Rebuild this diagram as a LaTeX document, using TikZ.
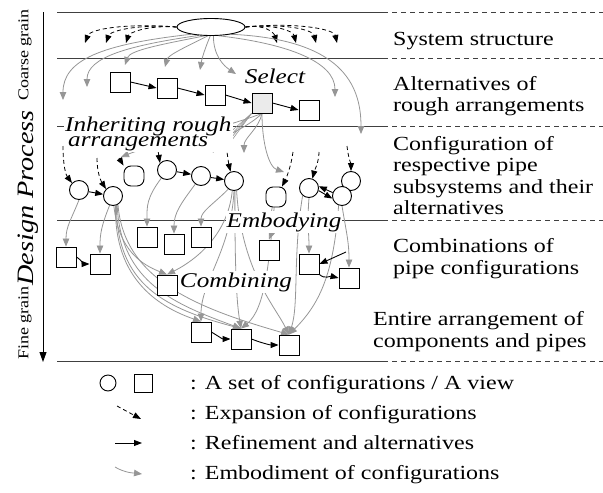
\documentclass[tikz,border=0pt]{standalone}
\usepackage{fontspec}
\setmainfont{Liberation Serif}[FakeStretch=1.2]
\usetikzlibrary{arrows.meta,shapes.geometric}
\definecolor{embgray}{RGB}{150,150,150}
\definecolor{selgray}{RGB}{235,235,235}
\pgfdeclarelayer{back}
\pgfsetlayers{back,main}

\begin{document}
\begin{tikzpicture}[x=1pt,y=-1pt,
  box/.style={draw,line width=0.9pt,fill=white,minimum size=20pt,inner sep=0pt},
  cfg/.style={draw,circle,line width=0.9pt,fill=white,minimum size=19pt,inner sep=0pt},
  rcfg/.style={draw,rounded corners=7pt,line width=0.9pt,fill=white,minimum size=20pt,inner sep=0pt},
  expand/.style={dash pattern=on 4pt off 3pt,line width=0.8pt,-{Triangle[length=8pt,width=6pt]}},
  refine/.style={line width=0.9pt,-{Triangle[length=8pt,width=6pt]}},
  embody/.style={embgray,line width=0.8pt,-{Triangle[length=8pt,width=6.5pt]}},
  inherit/.style={embgray,line width=0.6pt},
  level/.style={black!75,line width=0.8pt},
  tag/.style={font=\fontsize{21}{21}\selectfont\itshape,fill=white,inner sep=1pt},
  lbl/.style={anchor=base west,inner sep=0pt,font=\fontsize{20}{22}\selectfont},
]
\useasboundingbox (0,0) rectangle (603,493);

% design process axis
\coordinate (axtop) at (43,12);
\coordinate (axbot) at (43,362);
\draw[-{Triangle[length=10pt,width=7pt]},line width=0.9pt] (axtop) -- (axbot);
\node[rotate=90,font=\fontsize{15}{15}\selectfont] (coarse) at (25,55) {Coarse grain};
\node[rotate=90,font=\fontsize{23.5}{24}\selectfont\itshape] (dproc) at (28,198) {Design Process};
\node[rotate=90,font=\fontsize{15}{15}\selectfont] (fine) at (25,323) {Fine grain};

% system structure
\node[draw,ellipse,line width=0.9pt,minimum width=68pt,minimum height=17pt,inner sep=0pt,fill=white] (sys) at (211,27) {};

% rough arrangements
\node[box] (r1) at (120,82) {};
\node[box] (r2) at (167,88) {};
\node[box] (r3) at (215,95) {};
\node[box,fill=selgray] (r4) at (262,103) {};
\node[box] (r5) at (309,110) {};

% pipe subsystems
\node[cfg] (c1) at (79,190) {};
\node[cfg] (c2) at (113,196) {};
\node[rcfg] (c3) at (134,176) {};
\node[cfg] (c4) at (167,170) {};
\node[cfg] (c5) at (201,176) {};
\node[cfg] (c6) at (234,181) {};
\node[rcfg] (c7) at (276,197) {};
\node[cfg] (c10) at (351,181) {};
\node[cfg] (c8) at (309,188) {};
\node[cfg] (c9) at (342,196) {};

% combinations
\node[box] (b1) at (66,257) {};
\node[box] (b2) at (100,264) {};
\node[box] (b3) at (147,237) {};
\node[box] (b4) at (174,244) {};
\node[box] (b5) at (201,237) {};
\node[box] (b6) at (167,285) {};
\node[box] (b7) at (269,250) {};
\node[box] (b8) at (309,264) {};
\node[box] (b9) at (349,278) {};

% entire arrangement
\node[box] (f1) at (201,332) {};
\node[box] (f2) at (241,339) {};
\node[box] (f3) at (289,345) {};

% free ends
\coordinate (xl1) at (85,43);
\coordinate (xl2) at (106,43);
\coordinate (xl3) at (126,43);
\coordinate (xr1) at (277,43);
\coordinate (xr2) at (296,43);
\coordinate (xr3) at (316,43);
\coordinate (xr4) at (337,43);
\coordinate (e1) at (63,100);
\coordinate (e2) at (87,87);
\coordinate (e3) at (125,65);
\coordinate (e4) at (165,67);
\coordinate (e5) at (200,70);
\coordinate (e6) at (236,74);
\coordinate (e7) at (335,97);
\coordinate (e8) at (361,134);
\coordinate (g1) at (121,157);
\coordinate (g2) at (213,153);
\coordinate (g3) at (244,153);
\coordinate (g4) at (284,172);
\coordinate (s1) at (63,146);
\coordinate (s2) at (97,158);
\coordinate (s3) at (119,158);
\coordinate (s4) at (157,144);
\coordinate (s6) at (226,146);
\coordinate (s7) at (293,152);
\coordinate (s8) at (319,152);
\coordinate (s10) at (347,146);
\coordinate (bx) at (346,252);

% labels
\node[tag] (sel) at (275,76) {Select};
\node[tag,anchor=north west,align=left,font={\fontsize{21}{14.5}\selectfont\itshape\lineskiplimit=-50pt}] (inh) at (64,116) {Inheriting rough\\\hspace*{3pt}arrangements};
\node[tag] (emb) at (284,222) {Embodying};
\node[tag] (comb) at (236,282) {Combining};

\node[lbl] (l1) at (393,45) {System structure};
\node[lbl] (l2a) at (393,90) {Alternatives of};
\node[lbl] (l2b) at (393,111) {rough arrangements};
\node[lbl] (l3a) at (393,150) {Configuration of};
\node[lbl] (l3b) at (393,171) {respective pipe};
\node[lbl] (l3c) at (393,193) {subsystems and their};
\node[lbl] (l3d) at (393,214) {alternatives};
\node[lbl] (l4a) at (393,252) {Combinations of};
\node[lbl] (l4b) at (393,274) {pipe configurations};
\node[lbl] (l5a) at (373,325) {Entire arrangement of};
\node[lbl] (l5b) at (373,347) {components and pipes};

% legend
\node[cfg,minimum size=16pt] (lgc) at (108,383) {};
\node[box,minimum size=18pt] (lgb) at (143,383) {};
\node[lbl] (lg1) at (190,389) {: A set of configurations / A view};
\coordinate (lx1) at (117,406);
\coordinate (lx2) at (141,419);
\draw[expand] (lx1) -- (lx2);
\node[lbl] (lg2) at (190,419) {: Expansion of configurations};
\coordinate (lr1) at (115,443);
\coordinate (lr2) at (142,443);
\draw[refine] (lr1) -- (lr2);
\node[lbl] (lg3) at (190,449) {: Refinement and alternatives};
\coordinate (le1) at (115,467);
\coordinate (le2) at (142,474);
\draw[embody] (le1) .. controls +(10,6) and +(-8,-1) .. (le2);
\node[lbl] (lg4) at (190,479) {: Embodiment of configurations};

\begin{pgfonlayer}{back}
% levels
\foreach \y in {12,58,126,220,361} {
  \draw[level] (57,\y) -- (383,\y);
  \draw[level,dash pattern=on 5pt off 4pt] (383,\y) -- (603,\y);
}

% expansion of system structure
\draw[expand] (sys.west) .. controls +(-50,-4) and +(5,-14) .. (xl1);
\draw[expand] (sys.west) .. controls +(-40,-3) and +(4,-12) .. (xl2);
\draw[expand] (sys.west) .. controls +(-30,-2) and +(3,-10) .. (xl3);
\draw[expand] (sys.east) .. controls +(20,-3) and +(-3,-10) .. (xr1);
\draw[expand] (sys.east) .. controls +(30,-3) and +(-3,-12) .. (xr2);
\draw[expand] (sys.east) .. controls +(40,-4) and +(-3,-13) .. (xr3);
\draw[expand] (sys.east) .. controls +(50,-5) and +(-3,-14) .. (xr4);

% embodiment of system structure
\draw[embody] (sys.200) .. controls +(-90,10) and +(0,-40) .. (e1);
\draw[embody] (sys.215) .. controls +(-70,10) and +(0,-30) .. (e2);
\draw[embody] (sys.235) .. controls +(-40,8) and +(5,-15) .. (e3);
\draw[embody] (sys.250) .. controls +(-20,10) and +(3,-12) .. (e4);
\draw[embody] (sys.265) .. controls +(-5,12) and +(2,-12) .. (e5);
\draw[embody] (sys.285) .. controls +(0,20) and +(-12,-8) .. (e6);
\draw[embody] (sys.310) .. controls +(70,8) and +(0,-35) .. (e7);
\draw[embody] (sys.340) .. controls +(110,5) and +(0,-50) .. (e8);

% alternatives of rough arrangements
\draw[refine] (r1.east) -- (r2.west);
\draw[refine] (r2.east) -- (r3.west);
\draw[refine] (r3.east) -- (r4.west);
\draw[refine] (r4.east) -- (r5.west);

% inheriting the selected arrangement
\foreach \d in {-5,-2,1,4}
  \draw[inherit] (r4.south west) -- ([yshift=\d pt]inh.east);
\draw[embody] (r4.south) .. controls +(-40,15) and +(25,-10) .. (g1);
\draw[embody] (r4.south) .. controls +(-15,15) and +(5,-15) .. (g2);
\draw[embody] (r4.south) .. controls +(-3,15) and +(0,-15) .. (g3);
\draw[embody] (r4.south) .. controls +(0,30) and +(-15,-5) .. (g4);

% expansion into pipe subsystems
\draw[expand] (s1) .. controls +(0,20) and +(-6,-8) .. (c1.north west);
\draw[expand] (s2) .. controls +(0,15) and +(-5,-8) .. (c2.north west);
\draw[expand] (s3) -- (c3.135);
\draw[expand] (s4) -- (c4.north west);
\draw[expand] (s6) .. controls +(2,12) and +(-2,-8) .. (c6.110);
\draw[expand] (s7) .. controls +(-2,15) and +(4,-8) .. (c7.60);
\draw[expand] (s8) .. controls +(0,10) and +(2,-8) .. (c8.70);
\draw[expand] (s10) .. controls +(1,10) and +(0,-6) .. (c10.north);

% alternatives of pipe subsystems
\draw[refine] (c1) -- (c2);
\draw[refine] (c4) -- (c5);
\draw[refine] (c5) -- (c6);
\draw[refine] (c9.160) -- (c8.10);
\draw[refine] (c8.-15) -- (c9.195);

% embodying into combinations
\draw[embody] (c1.south) .. controls +(-8,20) and +(0,-20) .. (b1.north);
\draw[embody] (c2.250) .. controls +(-8,20) and +(0,-20) .. (b2.north);
\draw[embody] (c4.235) .. controls +(-15,20) and +(0,-20) .. (b3.north);
\draw[embody] (c5.235) .. controls +(-15,20) and +(0,-20) .. (b4.north);
\draw[embody] (c6.235) .. controls +(-15,15) and +(0,-15) .. (b5.north);
\draw[embody] (c2.275) .. controls +(5,45) and +(-25,-10) .. (b6.north);
\draw[embody] (c6.260) .. controls +(-5,50) and +(20,-10) .. (b6.north);
\draw[embody] (c7.250) .. controls +(-3,15) and +(3,-8) .. (b7.north);
\draw[embody] (c8.south) .. controls +(-2,25) and +(0,-20) .. (b8.north);
\draw[embody] (c9.south) .. controls +(5,30) and +(0,-25) .. (b9.north);

% combining into the entire arrangement
\draw[embody] (c2.285) .. controls +(-2,75) and +(-40,-14) .. (f1.north);
\draw[embody] (c2.290) .. controls +(0,80) and +(-75,-20) .. (f2.north);
\draw[embody] (c2.295) .. controls +(3,78) and +(-65,-24) .. (f2.north);
\draw[embody] (c2.300) .. controls +(6,76) and +(-90,-26) .. (f3.north);
\draw[embody] (c6.270) .. controls +(-3,60) and +(0,-40) .. (f1.north);
\draw[embody] (c6.275) .. controls +(0,70) and +(-5,-30) .. (f2.north);
\draw[embody] (c6.285) .. controls +(5,80) and +(-15,-30) .. (f3.north);
\draw[embody] (c7.260) .. controls +(-5,50) and +(25,-20) .. (f2.north);
\draw[embody] (c8.230) .. controls +(-10,60) and +(10,-30) .. (f3.north);
\draw[embody] (c9.250) .. controls +(-5,70) and +(30,-30) .. (f3.north);

% combinations and entire arrangement
\draw[refine] (b1.east) .. controls +(6,4) and +(-6,0) .. (b2.west);
\draw[refine] (bx) -- (b8.east);
\draw[refine] (b8.south east) .. controls +(5,5) and +(-8,-2) .. (b9.west);
\draw[refine] (f1.east) .. controls +(8,5) and +(-8,0) .. (f2.west);
\draw[refine] (f2.east) .. controls +(10,4) and +(-8,0) .. (f3.west);
\end{pgfonlayer}
\end{tikzpicture}
\end{document}
